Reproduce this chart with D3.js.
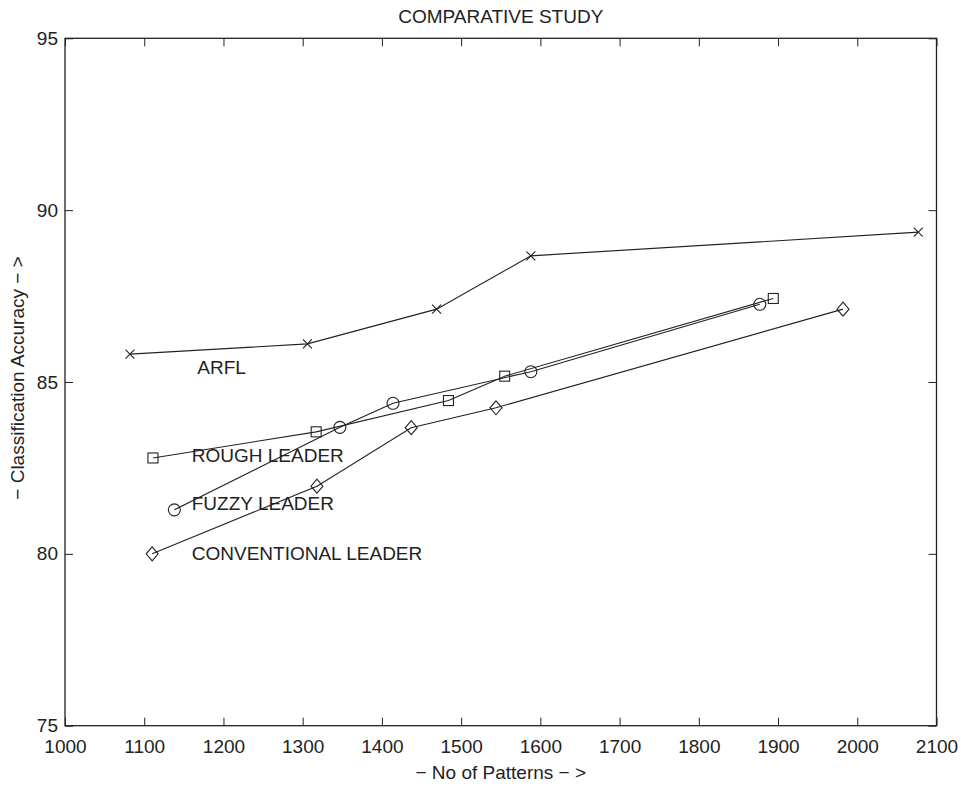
<!DOCTYPE html>
<html>
<head>
<meta charset="utf-8">
<script src="https://cdn.jsdelivr.net/npm/d3@7"></script>
<style>
  html, body { margin: 0; padding: 0; background: #fff; }
  text { font-family: "Liberation Sans", Arial, sans-serif; fill: #222; }
</style>
</head>
<body>
<svg id="chart" width="961" height="786"></svg>
<script>
// ---- data ----
const title = "COMPARATIVE STUDY";
const xLabel = "\u2212 No of Patterns \u2212 >";
const yLabel = "\u2212 Classification Accuracy \u2212 >";
const xTicks = [1000, 1100, 1200, 1300, 1400, 1500, 1600, 1700, 1800, 1900, 2000, 2100];
const yTicks = [75, 80, 85, 90, 95];

const arflX = [1082, 1306, 1469, 1588, 2077];
const arflY = [85.81, 86.11, 87.12, 88.67, 89.36];
const roughX = [1111, 1317, 1484, 1555, 1894];
const roughY = [82.79, 83.55, 84.46, 85.17, 87.43];
const fuzzyX = [1138, 1347, 1414, 1588, 1877];
const fuzzyY = [81.28, 83.68, 84.38, 85.30, 87.26];
const convX = [1110, 1318, 1437, 1544, 1982];
const convY = [80.0, 81.97, 83.67, 84.25, 87.12];

const seriesNames = ["ARFL", "ROUGH LEADER", "FUZZY LEADER", "CONVENTIONAL LEADER"];
const seriesMarkers = ["x", "square", "circle", "diamond"];
const labelX = [1167, 1160, 1160, 1160];
const labelY = [85.22, 82.67, 81.28, 79.82];

(function () {
// ---- layout ----
const svg = d3.select("#chart");
const mLeft = 65, mRight = 936.5, mTop = 38.3, mBottom = 725.7;
const x = d3.scaleLinear().domain([1000, 2100]).range([mLeft, mRight]);
const y = d3.scaleLinear().domain([75, 95]).range([mBottom, mTop]);
const FS = 19;
const tickLen = 8;

const series = [
  {xs: arflX, ys: arflY},
  {xs: roughX, ys: roughY},
  {xs: fuzzyX, ys: fuzzyY},
  {xs: convX, ys: convY}
].map((s, i) => ({
  name: seriesNames[i],
  marker: seriesMarkers[i],
  pts: s.xs.map((v, j) => [v, s.ys[j]])
}));

// axes (ticks inward, on all four sides)
const axB = d3.axisBottom(x).tickValues(xTicks).tickFormat(d3.format("d")).tickSizeInner(-tickLen).tickSizeOuter(0).tickPadding(14);
const axT = d3.axisTop(x).tickValues(xTicks).tickFormat("").tickSizeInner(-tickLen).tickSizeOuter(0);
const axL = d3.axisLeft(y).tickValues(yTicks).tickFormat(d3.format("d")).tickSizeInner(-tickLen).tickSizeOuter(0).tickPadding(7);
const axR = d3.axisRight(y).tickValues(yTicks).tickFormat("").tickSizeInner(-tickLen).tickSizeOuter(0);

function styleAxis(g) {
  g.select(".domain").remove();
  g.selectAll(".tick line").attr("stroke", "#222").attr("stroke-width", 1);
  g.selectAll(".tick text").attr("font-size", FS).attr("fill", "#222")
    .style("font-family", '"Liberation Sans", Arial, sans-serif');
}
svg.append("g").attr("transform", `translate(0,${mBottom})`).call(axB).call(styleAxis);
svg.append("g").attr("transform", `translate(0,${mTop})`).call(axT).call(styleAxis);
svg.append("g").attr("transform", `translate(${mLeft},0)`).call(axL).call(styleAxis);
svg.append("g").attr("transform", `translate(${mRight},0)`).call(axR).call(styleAxis);

// frame
svg.append("rect")
  .attr("x", mLeft).attr("y", mTop)
  .attr("width", mRight - mLeft).attr("height", mBottom - mTop)
  .attr("fill", "none").attr("stroke", "#222").attr("stroke-width", 1.3);

// lines
const line = d3.line().x(d => x(d[0])).y(d => y(d[1]));
svg.append("g").selectAll("path.series")
  .data(series).join("path")
  .attr("class", "series")
  .attr("d", d => line(d.pts))
  .attr("fill", "none").attr("stroke", "#222").attr("stroke-width", 1.1);

// markers
const mg = svg.append("g");
series.forEach(s => {
  s.pts.forEach(p => {
    const cx = x(p[0]), cy = y(p[1]);
    let el;
    if (s.marker === "x") {
      const h = 4.5;
      el = mg.append("path").attr("d", `M${cx-h},${cy-h}L${cx+h},${cy+h}M${cx-h},${cy+h}L${cx+h},${cy-h}`);
    } else if (s.marker === "square") {
      const h = 5;
      el = mg.append("rect").attr("x", cx - h).attr("y", cy - h).attr("width", 2*h).attr("height", 2*h);
    } else if (s.marker === "circle") {
      el = mg.append("circle").attr("cx", cx).attr("cy", cy).attr("r", 6);
    } else {
      const w = 6, h = 7;
      el = mg.append("path").attr("d", `M${cx},${cy-h}L${cx+w},${cy}L${cx},${cy+h}L${cx-w},${cy}Z`);
    }
    el.attr("fill", "none").attr("stroke", "#222").attr("stroke-width", 1.1);
  });
});

// series labels
svg.append("g").selectAll("text.lab")
  .data(series).join("text")
  .attr("class", "lab")
  .attr("x", (d, i) => x(labelX[i]))
  .attr("y", (d, i) => y(labelY[i]))
  .attr("font-size", FS)
  .text(d => d.name);

// title and axis labels
svg.append("text").attr("x", (mLeft + mRight) / 2).attr("y", 22.7)
  .attr("text-anchor", "middle").attr("font-size", FS).text(title);
svg.append("text").attr("x", (mLeft + mRight) / 2).attr("y", 779)
  .attr("text-anchor", "middle").attr("font-size", FS).text(xLabel);
svg.append("text")
  .attr("transform", `translate(24,${(mTop + mBottom) / 2 - 4}) rotate(-90)`)
  .attr("text-anchor", "middle").attr("font-size", FS).text(yLabel);
})();
</script>
</body>
</html>
